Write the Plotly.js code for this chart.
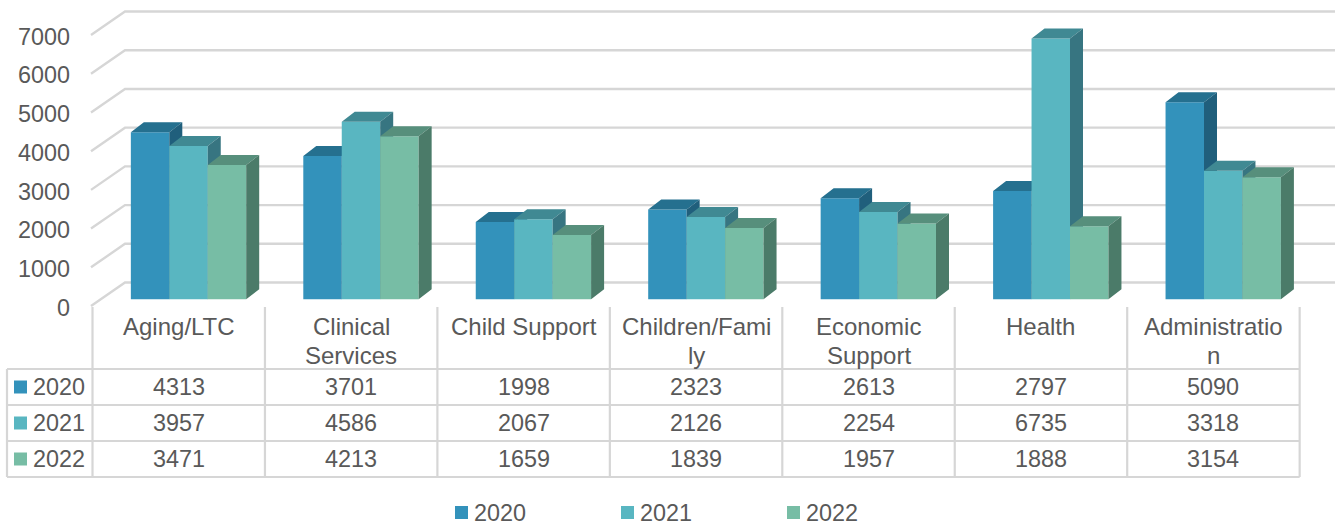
<!DOCTYPE html>
<html>
<head>
<meta charset="utf-8">
<script src="https://cdn.plot.ly/plotly-3.0.1.min.js"></script>
<style>html,body{margin:0;padding:0;background:#fff}#chart{width:1340px;height:527px}</style>
</head>
<body>
<div id="chart"></div>
<script>
const categories = ["Aging/LTC", "Clinical Services", "Child Support", "Children/Family", "Economic Support", "Health", "Administration"];
const categoryLines = [["Aging/LTC"], ["Clinical", "Services"], ["Child Support"], ["Children/Fami", "ly"], ["Economic", "Support"], ["Health"], ["Administratio", "n"]];
const years = ["2020", "2021", "2022"];
const values2020 = [4313, 3701, 1998, 2323, 2613, 2797, 5090];
const values2021 = [3957, 4586, 2067, 2126, 2254, 6735, 3318];
const values2022 = [3471, 4213, 1659, 1839, 1957, 1888, 3154];
const tickValues = [0, 1000, 2000, 3000, 4000, 5000, 6000, 7000];
const frontColors = ["#3392BB", "#59B6C1", "#77BDA5"];
const topColors = ["#25708F", "#408993", "#578F7C"];
const sideColors = ["#205F7C", "#377581", "#4B7B69"];

const series = [values2020, values2021, values2022];

// Page geometry, in pixels.
const W = 1340, H = 527;
const colStart = 92.5, colWidth = 172.45;
const pxPerUnit = 0.03871;
const wallFloorY = 306, tickFloorY = 307.5, barFloorY = 299.3;
const font = "'Liberation Sans', Arial, sans-serif";
const textColor = "#595959", lineColor = "#D6D6D6", fontSize = 23.4, headerSize = 24;

// Category axis: one unit per table column, category i centred in column i.
const xFromPx = px => (px - colStart - colWidth / 2) / colWidth;
const xRange = [xFromPx(0), xFromPx(W)];
const tickRange = [(tickFloorY - H) / pxPerUnit, tickFloorY / pxPerUnit];
const barRange = [(barFloorY - H) / pxPerUnit, barFloorY / pxPerUnit];

const barWidth = 38.45 / colWidth;
const barShift = 9.8 / colWidth;
const depthX = 13 / colWidth, depthY = 10 / pxPerUnit;
const wallDepthY = 23.5 / pxPerUnit;
const wallLift = (tickFloorY - wallFloorY) / pxPerUnit;

const traces = [];

// Side wall and back wall gridlines, one L-shaped run per tick.
const gridX = [], gridY = [];
tickValues.forEach(v => {
  gridX.push(xFromPx(91), xFromPx(125), xFromPx(1335), null);
  gridY.push(v + wallLift, v + wallLift + wallDepthY, v + wallLift + wallDepthY, null);
});
traces.push({type: "scatter", mode: "lines", x: gridX, y: gridY, yaxis: "y",
  line: {color: lineColor, width: 2.4}, hoverinfo: "skip", showlegend: false});

// Each series sits on its own overlaying axis so its front faces
// cover the side faces of the series before it.
series.forEach((vals, s) => {
  const axis = "y" + (s + 2);
  const left = categories.map((_, i) => i + barShift + (s - 1.5) * barWidth);
  traces.push({type: "bar", name: years[s], x: left.map(x => x + barWidth / 2), y: vals,
    customdata: categories, width: barWidth, yaxis: axis,
    marker: {color: frontColors[s]}, showlegend: false,
    hovertemplate: "%{customdata}: %{y}<extra>" + years[s] + "</extra>"});
  const topX = [], topY = [], sideX = [], sideY = [];
  vals.forEach((v, i) => {
    const x0 = left[i], x1 = left[i] + barWidth;
    topX.push(x0, x1, x1 + depthX, x0 + depthX, x0, null);
    topY.push(v, v, v + depthY, v + depthY, v, null);
    sideX.push(x1, x1, x1 + depthX, x1 + depthX, x1, null);
    sideY.push(0, v, v + depthY, depthY, 0, null);
  });
  [[topX, topY, topColors[s]], [sideX, sideY, sideColors[s]]].forEach(([fx, fy, c]) => {
    traces.push({type: "scatter", mode: "lines", x: fx, y: fy, yaxis: axis, fill: "toself",
      fillcolor: c, line: {width: 0, color: c}, hoverinfo: "skip", showlegend: false});
  });
});

// Data table under the plot, plus the swatches of the table key and the legend.
const px = x => x / W, py = y => 1 - y / H;
const shapes = [], annotations = [];
const rule = (x0, y0, x1, y1, color) => shapes.push({type: "line", xref: "paper", yref: "paper",
  x0: px(x0), y0: py(y0), x1: px(x1), y1: py(y1), line: {color: color || lineColor, width: 2.2}});
const swatch = (x, y, color) => shapes.push({type: "rect", xref: "paper", yref: "paper",
  x0: px(x), y0: py(y), x1: px(x + 13), y1: py(y + 13), fillcolor: color, line: {width: 0}});
const label = (x, y, text, anchor, size) => annotations.push({xref: "paper", yref: "paper",
  x: px(x), y: py(y), text: text, showarrow: false, xanchor: anchor, yanchor: "middle",
  align: "center", borderpad: 0, font: {family: font, size: size || fontSize, color: textColor}});

const rowLines = [369, 405, 441, 477];
const rowCentres = [387, 423, 459];
const headerCentres = [326.5, 355.5];
rowLines.forEach(y => rule(7, y, colStart + 7 * colWidth, y));
rule(7, rowLines[0], 7, rowLines[3]);
for (let j = 0; j <= categories.length; j++) {
  const x = colStart + j * colWidth;
  rule(x, 307, x, rowLines[3]);
}
categoryLines.forEach((lines, i) => lines.forEach((t, n) =>
  label(colStart + (i + 0.5) * colWidth, headerCentres[n], t, "center", headerSize)));
series.forEach((vals, s) => {
  swatch(14, rowCentres[s] - 6.5, frontColors[s]);
  label(31.5, rowCentres[s], years[s], "left");
  vals.forEach((v, i) => label(colStart + (i + 0.5) * colWidth, rowCentres[s], String(v), "center"));
  const legendX = 455 + s * 166;
  swatch(legendX, 506, frontColors[s]);
  label(legendX + 17.5, 512.5, years[s], "left");
});

const overlay = range => ({range: range, overlaying: "y", visible: false, fixedrange: true});
const layout = {
  width: W, height: H,
  margin: {l: 0, r: 0, t: 0, b: 0, pad: 0},
  paper_bgcolor: "#fff", plot_bgcolor: "rgba(0,0,0,0)",
  showlegend: false, barmode: "overlay", dragmode: false,
  xaxis: {range: xRange, visible: false, fixedrange: true},
  yaxis: {range: tickRange, anchor: "free", position: 70 / W, side: "left",
    tickmode: "array", tickvals: tickValues, ticktext: tickValues.map(String),
    showgrid: false, zeroline: false, showline: false, ticks: "", fixedrange: true,
    tickfont: {family: font, size: fontSize, color: textColor}},
  yaxis2: overlay(barRange), yaxis3: overlay(barRange), yaxis4: overlay(barRange),
  shapes: shapes, annotations: annotations
};
Plotly.newPlot("chart", traces, layout, {displayModeBar: false, responsive: false});
</script>
</body>
</html>
